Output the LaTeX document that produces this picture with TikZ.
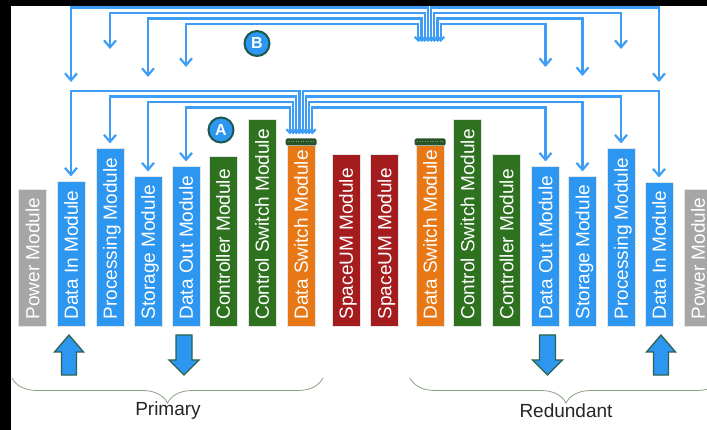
\documentclass[tikz,border=0pt]{standalone}
\usepackage{fontspec}
\setmainfont{Liberation Sans}
\usetikzlibrary{arrows.meta,decorations.pathreplacing}
\definecolor{datblue}{RGB}{44,150,240}
\definecolor{wireblue}{RGB}{62,158,245}
\definecolor{ctlgreen}{RGB}{46,114,32}
\definecolor{swOrange}{RGB}{232,120,22}
\definecolor{spcred}{RGB}{165,28,30}
\definecolor{pwrgrey}{RGB}{166,166,166}
\definecolor{capgreen}{RGB}{42,82,40}
\definecolor{badgeedge}{RGB}{28,88,78}
\definecolor{arredge}{RGB}{44,100,78}
\definecolor{bracecol}{RGB}{140,160,130}

\begin{document}
\begin{tikzpicture}[x=1pt, y=-1pt,
    mod/.style={draw=black!10, line width=1pt, minimum width=28pt, inner sep=0pt, anchor=south},
    pwr/.style={mod, fill=pwrgrey},
    dat/.style={mod, fill=datblue},
    ctl/.style={mod, fill=ctlgreen},
    dsw/.style={mod, fill=swOrange},
    spc/.style={mod, fill=spcred},
    modtxt/.style={rotate=90, anchor=west, inner sep=0pt, text height=13.6pt, text depth=0pt, text=white, font=\fontsize{19}{19}\selectfont},
    swcap/.style={fill=capgreen, minimum width=31pt, minimum height=7pt, inner sep=0pt, rounded corners=1.5pt},
    capdots/.style={draw=green!45!black!60, line width=1pt, dash pattern=on 1pt off 1.5pt},
    wire/.style={draw=wireblue, line width=2.2pt, {Straight Barb[length=3.5pt,width=7pt]}-{Straight Barb[length=7pt,width=12pt]}},
    badge/.style={circle, fill=datblue, draw=badgeedge, line width=2pt, minimum size=25pt, inner sep=0pt, text=white, font=\fontsize{16}{16}\selectfont\bfseries},
    bigarr/.style={fill=datblue, draw=arredge, line width=1.3pt, line join=miter},
    grpbrace/.style={draw=bracecol, line width=0.8pt, decorate, decoration={brace, mirror, amplitude=25pt}},
    grp/.style={font=\fontsize{19}{19}\selectfont, text=black!85}
  ]
  \useasboundingbox (0,0) rectangle (707,430);
  \clip (0,0) rectangle (707,430);
  \fill[black] (0,0) rectangle (707,430);
  \fill[white] (11,6) rectangle (707,430);

  % Modules, primary side
  \node[pwr, minimum height=137pt] (pwL) at (32.5,327) {};
  \node[dat, minimum height=145pt] (diL) at (71,327) {};
  \node[dat, minimum height=178pt] (prL) at (110,327) {};
  \node[dat, minimum height=150pt] (stL) at (148,327) {};
  \node[dat, minimum height=160pt] (doL) at (186,327) {};
  \node[ctl, minimum height=170pt] (coL) at (223,327) {};
  \node[ctl, minimum height=207pt] (csL) at (262,327) {};
  \node[dsw, minimum height=181pt] (dsL) at (301,327) {};
  \node[spc, minimum height=172pt] (suL) at (346,327) {};
  % Modules, redundant side
  \node[spc, minimum height=172pt] (suR) at (384.5,327) {};
  \node[dsw, minimum height=181pt] (dsR) at (430,327) {};
  \node[ctl, minimum height=207pt] (csR) at (467.5,327) {};
  \node[ctl, minimum height=172pt] (coR) at (506.5,327) {};
  \node[dat, minimum height=160pt] (doR) at (545.5,327) {};
  \node[dat, minimum height=150pt] (stR) at (582.5,327) {};
  \node[dat, minimum height=178pt] (prR) at (621,327) {};
  \node[dat, minimum height=144pt] (diR) at (659,327) {};
  \node[pwr, minimum height=137pt] (pwR) at (698,327) {};

  % Module names
  \node[modtxt] (pwLt) at ([yshift=7.5pt]pwL.south) {Power Module};
  \node[modtxt] (diLt) at ([yshift=7.5pt]diL.south) {Data In Module};
  \node[modtxt] (prLt) at ([yshift=7.5pt]prL.south) {Processing Module};
  \node[modtxt] (stLt) at ([yshift=7.5pt]stL.south) {Storage Module};
  \node[modtxt] (doLt) at ([yshift=7.5pt]doL.south) {Data Out Module};
  \node[modtxt] (coLt) at ([yshift=7.5pt]coL.south) {Controller Module};
  \node[modtxt] (csLt) at ([yshift=7.5pt]csL.south) {Control Switch Module};
  \node[modtxt] (dsLt) at ([yshift=7.5pt]dsL.south) {Data Switch Module};
  \node[modtxt] (suLt) at ([yshift=7.5pt]suL.south) {SpaceUM Module};
  \node[modtxt] (suRt) at ([yshift=7.5pt]suR.south) {SpaceUM Module};
  \node[modtxt] (dsRt) at ([yshift=7.5pt]dsR.south) {Data Switch Module};
  \node[modtxt] (csRt) at ([yshift=7.5pt]csR.south) {Control Switch Module};
  \node[modtxt] (coRt) at ([yshift=7.5pt]coR.south) {Controller Module};
  \node[modtxt] (doRt) at ([yshift=7.5pt]doR.south) {Data Out Module};
  \node[modtxt] (stRt) at ([yshift=7.5pt]stR.south) {Storage Module};
  \node[modtxt] (prRt) at ([yshift=7.5pt]prR.south) {Processing Module};
  \node[modtxt] (diRt) at ([yshift=7.5pt]diR.south) {Data In Module};
  \node[modtxt] (pwRt) at ([yshift=7.5pt]pwR.south) {Power Module};

  % Connector caps on the data switches
  \node[swcap] (capA) at ([yshift=3pt]dsL.north) {};
  \node[swcap] (capB) at ([yshift=3pt]dsR.north) {};
  \draw[capdots] ([xshift=3pt]capA.west) -- ([xshift=-3pt]capA.east);
  \draw[capdots] ([xshift=3pt]capB.west) -- ([xshift=-3pt]capB.east);

  % Wire levels
  \coordinate (la1) at (0,91);
  \coordinate (la2) at (0,96.5);
  \coordinate (la3) at (0,102);
  \coordinate (la4) at (0,107.5);
  \coordinate (lb1) at (0,7.5);
  \coordinate (lb2) at (0,13);
  \coordinate (lb3) at (0,18.5);
  \coordinate (lb4) at (0,24);

  % Bus A (primary data switch)
  \draw[wire, shorten <=4pt, shorten >=4.5pt] ([xshift=-1.6pt]capA.north) |- (diL.north |- la1) -- (diL.north);
  \draw[wire, shorten <=4pt, shorten >=4.5pt] ([xshift=-4.8pt]capA.north) |- (prL.north |- la2) -- (prL.north);
  \draw[wire, shorten <=4pt, shorten >=4.5pt] ([xshift=-8pt]capA.north) |- (stL.north |- la3) -- (stL.north);
  \draw[wire, shorten <=4pt, shorten >=4.5pt] ([xshift=-11.2pt]capA.north) |- (doL.north |- la4) -- (doL.north);
  \draw[wire, shorten <=4pt, shorten >=4.5pt] ([xshift=1.6pt]capA.north) |- (diR.north |- la1) -- (diR.north);
  \draw[wire, shorten <=4pt, shorten >=4.5pt] ([xshift=4.8pt]capA.north) |- (prR.north |- la2) -- (prR.north);
  \draw[wire, shorten <=4pt, shorten >=4.5pt] ([xshift=8pt]capA.north) |- (stR.north |- la3) -- (stR.north);
  \draw[wire, shorten <=4pt, shorten >=4.5pt] ([xshift=11.2pt]capA.north) |- (doR.north |- la4) -- (doR.north);

  % Bus B (redundant data switch)
  \coordinate (busB) at (429.5,42);
  \coordinate (bDiL) at (71,82);
  \coordinate (bPrL) at (110,49);
  \coordinate (bStL) at (148,77);
  \coordinate (bDoL) at (186,67);
  \coordinate (bDiR) at (659,82);
  \coordinate (bPrR) at (621,49);
  \coordinate (bStR) at (582.5,76);
  \coordinate (bDoR) at (545.5,67);
  \draw[wire] ([xshift=-1.6pt]busB) |- (bDiL |- lb1) -- (bDiL);
  \draw[wire] ([xshift=-4.8pt]busB) |- (bPrL |- lb2) -- (bPrL);
  \draw[wire] ([xshift=-8pt]busB) |- (bStL |- lb3) -- (bStL);
  \draw[wire] ([xshift=-11.2pt]busB) |- (bDoL |- lb4) -- (bDoL);
  \draw[wire] ([xshift=1.6pt]busB) |- (bDiR |- lb1) -- (bDiR);
  \draw[wire] ([xshift=4.8pt]busB) |- (bPrR |- lb2) -- (bPrR);
  \draw[wire] ([xshift=8pt]busB) |- (bStR |- lb3) -- (bStR);
  \draw[wire] ([xshift=11.2pt]busB) |- (bDoR |- lb4) -- (bDoR);

  \node[badge] (badgeA) at (221,130) {A};
  \node[badge] (badgeB) at (257,43.5) {B};

  % Data in / data out arrows
  \filldraw[bigarr] ([xshift=-2pt,yshift=-8pt]diL.south) -- ++(14.5,17) -- ++(-7,0) -- ++(0,23) -- ++(-15,0) -- ++(0,-23) -- ++(-7,0) -- cycle;
  \filldraw[bigarr] ([xshift=-10pt,yshift=-8pt]doL.south) -- ++(16,0) -- ++(0,25) -- ++(7,0) -- ++(-15,15) -- ++(-15,-15) -- ++(7,0) -- cycle;
  \filldraw[bigarr] ([xshift=-6pt,yshift=-8pt]doR.south) -- ++(16,0) -- ++(0,25) -- ++(7,0) -- ++(-15,15) -- ++(-15,-15) -- ++(7,0) -- cycle;
  \filldraw[bigarr] ([xshift=2pt,yshift=-8pt]diR.south) -- ++(14.5,17) -- ++(-7,0) -- ++(0,23) -- ++(-15,0) -- ++(0,-23) -- ++(-7,0) -- cycle;

  % Groups
  \draw[grpbrace] (12,378) -- (323,378);
  \draw[grpbrace] (410,378) -- (722,378);
  \node[grp] (primary) at (168,411) {Primary};
  \node[grp] (redundant) at (566,411) {Redundant};
\end{tikzpicture}
\end{document}
